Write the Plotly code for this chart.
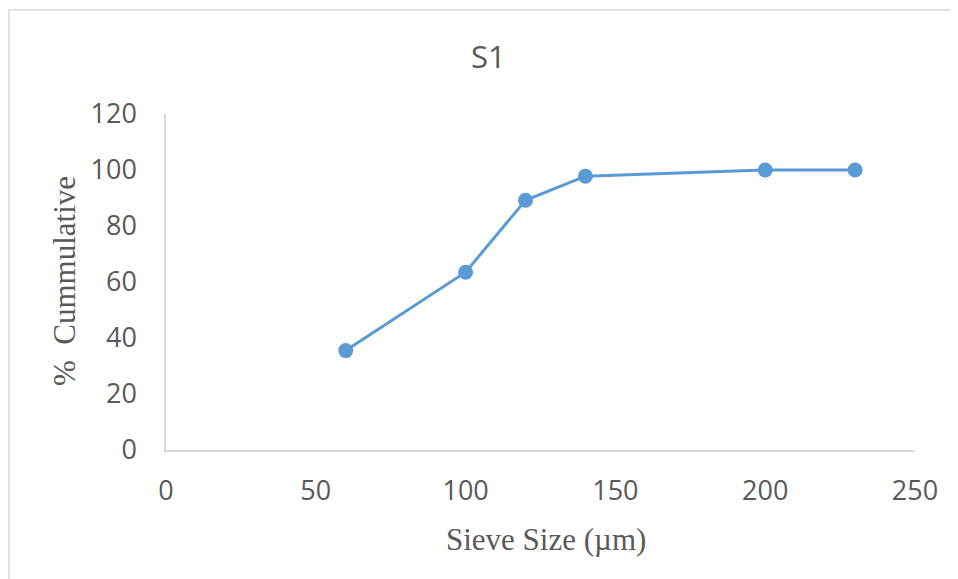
import plotly.graph_objects as go

sieve_size = [60, 100, 120, 140, 200, 230]
cumulative = [35.5, 63.5, 89.2, 97.8, 100, 100]
x_ticks = [0, 50, 100, 150, 200, 250]
y_ticks = [0, 20, 40, 60, 80, 100, 120]

# page offset of 8px (body margin) accounted for
OFF = 8
W, H = 950, 571
L, R, T, B = 166 - OFF, 43, 114 - OFF, 129
pw, ph = W - L - R, H - T - B

def px_x(p):
    return (p - OFF - L) / pw

def px_y(p):
    return (H - B - (p - OFF)) / ph

fig = go.Figure(go.Scatter(
    x=sieve_size, y=cumulative, mode="lines+markers",
    line=dict(color="#5B9BD5", width=3),
    marker=dict(color="#5B9BD5", size=15),
    showlegend=False, hoverinfo="x+y",
))

tick_font = dict(family="Open Sans", size=27, color="#595959")
fig.update_xaxes(range=[0, 250], tickvals=x_ticks, showgrid=False, zeroline=False,
                 showline=True, linecolor="#D9D9D9", linewidth=1.5, ticks="",
                 tickfont=tick_font, ticklabelstandoff=16, fixedrange=True)
fig.update_yaxes(range=[0, 120], tickvals=y_ticks, showgrid=False, zeroline=False,
                 showline=True, linecolor="#D9D9D9", linewidth=1.5, ticks="",
                 tickfont=tick_font, ticklabelstandoff=22, fixedrange=True)

fig.update_layout(
    width=W, height=H, margin=dict(l=L, r=R, t=T, b=B, autoexpand=False),
    paper_bgcolor="white", plot_bgcolor="white",
    shapes=[dict(type="rect", xref="paper", yref="paper",
                 x0=px_x(9), x1=px_x(990), y0=px_y(610), y1=px_y(10),
                 line=dict(color="#D9D9D9", width=1.5), fillcolor="rgba(0,0,0,0)", layer="below")],
    annotations=[
        dict(text="S1", xref="paper", yref="paper", x=px_x(488), y=px_y(56),
             showarrow=False, font=dict(family="Open Sans", size=31, color="#595959"),
             xanchor="center", yanchor="middle"),
        dict(text="Sieve Size (µm)", xref="paper", yref="paper", x=px_x(546), y=px_y(539),
             showarrow=False, font=dict(family="Liberation Serif", size=31, color="#595959"),
             xanchor="center", yanchor="middle"),
        dict(text="%  Cummulative", xref="paper", yref="paper", x=px_x(64), y=px_y(281),
             showarrow=False, textangle=-90,
             font=dict(family="Liberation Serif", size=31, color="#595959"),
             xanchor="center", yanchor="middle"),
    ],
)

fig.write_html("out.html")
